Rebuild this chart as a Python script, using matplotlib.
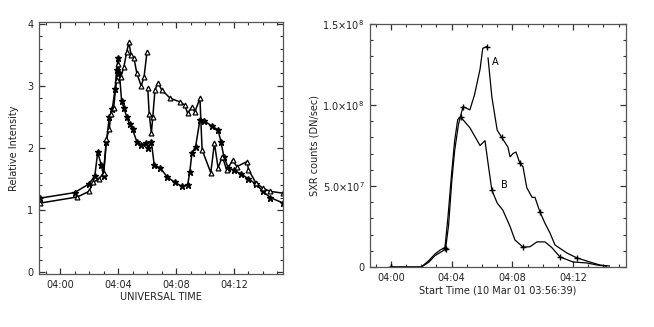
import numpy as np
import matplotlib
matplotlib.use("Agg")
import matplotlib.pyplot as plt
from matplotlib.ticker import FixedLocator, MultipleLocator

# ---------------- data (time in minutes after 04:00 UT) ----------------
xtick_pos = [0, 4, 8, 12]
xtick_labels = ["04:00", "04:04", "04:08", "04:12"]

# Left panel: relative intensity, two series
p_t = [-1.4, 1.0, 2.0, 2.4, 2.6, 2.85, 3.0, 3.2, 3.4, 3.6, 3.8, 3.9, 4.0, 4.1, 4.25,
       4.4, 4.6, 4.8, 5.0, 5.3, 5.6, 5.9, 6.1, 6.3, 6.5, 6.9, 7.4, 7.9, 8.4, 8.8,
       8.95, 9.1, 9.35, 9.65, 9.9, 10.5, 10.9, 11.1, 11.3, 11.6, 12.0, 12.5, 13.0,
       13.5, 14.0, 14.5, 15.4]
p_v = [1.19, 1.28, 1.42, 1.55, 1.93, 1.72, 1.55, 2.1, 2.5, 2.62, 2.95, 3.25, 3.45, 3.2, 2.75,
       2.65, 2.5, 2.38, 2.3, 2.1, 2.04, 2.08, 2.0, 2.1, 1.72, 1.68, 1.53, 1.45, 1.38, 1.4,
       1.61, 1.92, 2.02, 2.45, 2.44, 2.35, 2.29, 2.1, 1.86, 1.68, 1.64, 1.58, 1.5,
       1.42, 1.3, 1.2, 1.11]

q_t = [-1.4, 1.2, 2.0, 2.3, 2.7, 3.0, 3.2, 3.4, 3.5, 3.7, 3.9, 4.0, 4.2, 4.4, 4.6,
       4.75, 4.9, 5.1, 5.3, 5.6, 5.8, 6.0, 6.02, 6.05, 6.15, 6.3, 6.4, 6.55, 6.76, 7.0,
       7.6, 8.3, 8.6, 8.8, 9.1, 9.3, 9.65, 9.8, 10.4, 10.65, 10.9, 11.2, 11.5, 11.9,
       12.2, 12.9, 13.0, 13.5, 14.0, 14.5, 15.4]
q_v = [1.11, 1.21, 1.3, 1.45, 1.5, 1.6, 2.15, 2.3, 2.55, 2.65, 3.1, 3.35, 3.15, 3.3, 3.55,
       3.7, 3.5, 3.45, 3.2, 3.0, 3.15, 3.55, np.nan, 2.97, 2.55, 2.24, 2.5, 2.94, 3.05, 2.94,
       2.8, 2.74, 2.69, 2.56, 2.66, 2.58, 2.8, 1.97, 1.6, 2.08, 1.68, 1.86, 1.64, 1.8,
       1.7, 1.78, 1.65, 1.44, 1.35, 1.3, 1.27]

# Right panel: SXR counts (DN/sec)
a_t = [0.0, 2.0, 2.5, 2.9, 3.25, 3.6, 3.8, 4.0, 4.2, 4.45, 4.75, 5.2, 5.5, 5.87,
       6.05, 6.3, 6.35, 6.4, 6.65, 7.0, 7.3, 7.71, 7.85, 8.04, 8.24, 8.5, 8.7, 8.95,
       9.3, 9.49, 9.82, 10.15, 10.48, 10.81, 11.6, 12.26, 13.1, 13.78, 14.4]
a_v = [0.0, 0.0, 3e6, 7e6, 9e6, 1.1e7, 2.6e7, 5.2e7, 7.2e7, 8.8e7, 9.9e7, 9.7e7, 1.06e8, 1.22e8,
       1.35e8, 1.36e8, np.nan, 1.29e8, 1.05e8, 8.45e7, 8.0e7, 7.4e7, 6.8e7, 7.0e7, 7.1e7, 6.4e7, 6.2e7, 4.9e7,
       4.3e7, 4.3e7, 3.4e7, 2.7e7, 2.1e7, 1.36e7, 8.6e6, 5.6e6, 3.1e6, 1.2e6, 0.6e6]

b_t = [0.0, 2.0, 2.5, 2.9, 3.25, 3.56, 3.76, 4.0, 4.2, 4.4, 4.6, 5.2, 5.87, 6.2,
       6.4, 6.65, 7.0, 7.38, 7.85, 8.17, 8.7, 9.16, 9.62, 10.15, 10.6, 11.14, 12.0,
       12.9, 13.6, 14.2]
b_v = [0.0, 0.0, 4e6, 8e6, 1.05e7, 1.2e7, 3.1e7, 5.8e7, 7.8e7, 9.1e7, 9.25e7, 8.6e7, 7.5e7, 7.8e7,
       6.4e7, 4.75e7, 3.95e7, 3.5e7, 2.5e7, 1.67e7, 1.23e7, 1.25e7, 1.55e7, 1.55e7, 1.2e7, 6.2e6, 3.1e6,
       2.5e6, 1.2e6, 0.5e6]

label_a = ("A", 6.9, 1.265e8)
label_b = ("B", 7.5, 5.06e7)

right_yticks = [0, 5.0e7, 1.0e8, 1.5e8]
right_yticklabels = ["0", r"5.0$\times$10$^{7}$", r"1.0$\times$10$^{8}$", r"1.5$\times$10$^{8}$"]
left_yticks = [0, 1, 2, 3, 4]

# ---------------- figure ----------------
plt.rcParams["font.family"] = ["DejaVu Sans"]
fig = plt.figure(figsize=(6.54, 3.27), dpi=100)

def style(ax):
    ax.tick_params(which="both", direction="in", top=True, right=True,
                   labelsize=7, color="#333333", labelcolor="#222222", pad=4)
    ax.tick_params(which="major", length=4, width=0.9)
    ax.tick_params(which="minor", length=2.5, width=0.8)
    for s in ax.spines.values():
        s.set_linewidth(0.9)
        s.set_color("#555555")
    ax.xaxis.set_major_locator(FixedLocator(xtick_pos))
    ax.set_xticklabels(xtick_labels)
    ax.xaxis.set_minor_locator(MultipleLocator(1))

ax1 = fig.add_axes([39/654, 1-274/327, 244/654, 252/327])
ax1.plot(p_t, p_v, color="black", lw=1.1, marker="*", ms=5, mec="black", mfc="black")
ax1.plot(q_t, q_v, color="black", lw=1.1, marker="^", ms=3.5, mec="black", mfc="white", mew=0.9)
ax1.set_xlim(-1.45, 15.38)
ax1.set_ylim(-0.032, 4.03)
style(ax1)
ax1.set_yticks(left_yticks)
ax1.set_yticklabels([str(v) for v in left_yticks])
ax1.yaxis.set_minor_locator(MultipleLocator(0.2))
ax1.set_xlabel("UNIVERSAL TIME", fontsize=7, labelpad=2, color="#222222")
ax1.set_ylabel("Relative Intensity", fontsize=7, labelpad=6, color="#222222")

ax2 = fig.add_axes([370/654, 1-267/327, 256/654, 243/327])
ax2.plot(a_t, a_v, color="black", lw=0.9, marker="+", ms=4, markevery=5)
ax2.plot(b_t, b_v, color="black", lw=0.9, marker="+", ms=4, markevery=5)
ax2.set_xlim(-1.38, 15.49)
ax2.set_ylim(0, 1.5e8)
style(ax2)
ax2.set_yticks(right_yticks)
ax2.set_yticklabels(right_yticklabels)
ax2.yaxis.set_minor_locator(MultipleLocator(1e7))
ax2.text(label_a[1], label_a[2], label_a[0], fontsize=7, ha="center", va="center")
ax2.text(label_b[1], label_b[2], label_b[0], fontsize=7, ha="center", va="center")
ax2.set_xlabel("Start Time (10 Mar 01 03:56:39)", fontsize=7, labelpad=2, color="#222222")
ax2.set_ylabel("SXR counts (DN/sec)", fontsize=7, labelpad=2, color="#222222")

fig.savefig("out.png", dpi=100)
